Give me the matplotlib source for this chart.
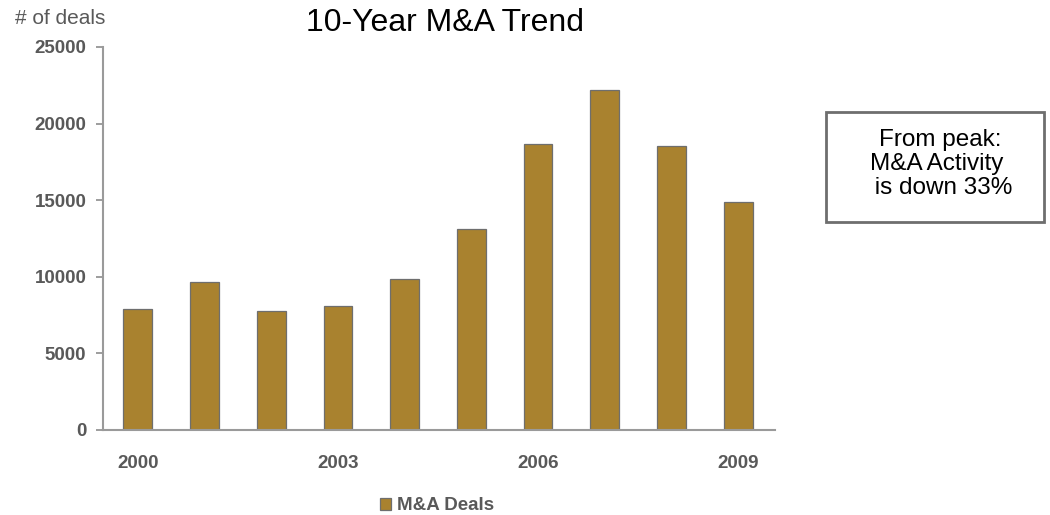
import matplotlib.pyplot as plt
import matplotlib.patches as mpatches

plt.rcParams['font.family'] = ['Liberation Sans', 'DejaVu Sans']

years = [2000, 2001, 2002, 2003, 2004, 2005, 2006, 2007, 2008, 2009]
deals = [7900, 9650, 7750, 8100, 9850, 13100, 18650, 22200, 18550, 14900]
shown_years = ["2000", "2003", "2006", "2009"]
y_ticks = [0, 5000, 10000, 15000, 20000, 25000]

bar_color = "#A9822F"
grey = "#595959"

fig = plt.figure(figsize=(10.5, 5.15), dpi=100)
ax = fig.add_axes([103 / 1050, 1 - 430 / 515, 672 / 1050, 383 / 515])

x = list(range(len(years)))
ax.bar(x, deals, width=0.43, color=bar_color, edgecolor="#6E6E6E", linewidth=0.9,
       label="M&A Deals")

ax.set_xlim(-0.52, 9.55)
ax.set_ylim(0, 25000)
ax.set_yticks(y_ticks)
ax.set_yticklabels([str(v) for v in y_ticks], fontsize=13.5, fontweight="bold", color=grey)
ax.set_xticks([0, 3, 6, 9])
ax.set_xticklabels(shown_years, fontsize=13.5, fontweight="bold", color=grey)
ax.tick_params(axis="x", length=0, pad=18)
ax.tick_params(axis="y", length=5, width=1.2, color="#8C8C8C", pad=7)

for s in ["top", "right"]:
    ax.spines[s].set_visible(False)
for s in ["left", "bottom"]:
    ax.spines[s].set_color("#9A9A9A")
    ax.spines[s].set_linewidth(1.5)

fig.text(445 / 1050, 1 - 23 / 515, "10-Year M&A Trend", fontsize=23, ha="center", va="center",
         color="black")
fig.text(15 / 1050, 1 - 19 / 515, "# of deals", fontsize=15, ha="left", va="center", color=grey)

handle = mpatches.Patch(facecolor=bar_color, edgecolor="#6E6E6E", linewidth=0.9)
fig.legend([handle], ["M&A Deals"], loc="center", bbox_to_anchor=(437 / 1050, 1 - 506 / 515),
           frameon=False, prop={"size": 13.5, "weight": "bold"}, labelcolor=grey,
           handlelength=0.6, handleheight=0.6, handletextpad=0.35, borderpad=0)

box = mpatches.Rectangle((826 / 1050, 1 - 222 / 515), 218 / 1050, 110 / 515,
                         transform=fig.transFigure, facecolor="white", edgecolor="#6E6E6E",
                         linewidth=2)
fig.add_artist(box)
fig.text(940 / 1050, 1 - 164 / 515, "From peak:\nM&A Activity \n is down 33%", fontsize=17.5,
         ha="center", va="center", linespacing=1.1, color="black")

fig.savefig("out.png", dpi=100)
